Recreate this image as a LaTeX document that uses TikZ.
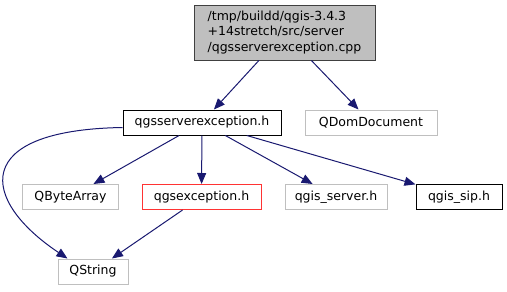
\documentclass[tikz,border=0pt]{standalone}
\usepackage{fontspec}
\setmainfont{DejaVu Sans}
\usepackage{tikz}
\usetikzlibrary{arrows.meta,positioning}

\definecolor{edgeblue}{HTML}{191970}
\definecolor{boxgray}{HTML}{BFBFBF}
\definecolor{boxdark}{HTML}{404040}

\tikzset{
  file/.style={draw, rectangle, inner sep=0pt, minimum height=25bp, line width=1bp,
    font=\fontsize{12.5bp}{15.5bp}\selectfont},
  extfile/.style={file, draw=boxgray},
  docfile/.style={file, draw=black},
  errfile/.style={file, draw=red!80},
  srcfile/.style={file, draw=boxdark, fill=boxgray, align=left},
  dep/.style={draw=edgeblue, line width=1bp, -{Triangle[length=11bp,width=9bp]}}
}

\begin{document}
\begin{tikzpicture}[x=1bp, y=-1bp]
    \useasboundingbox (0,0) rectangle (507,291);

    % source file and its headers
    \node[srcfile, minimum width=181bp, minimum height=55bp] (cpp) at (284.5,32.5)
      {/tmp/buildd/qgis-3.4.3\\+14stretch/src/server\\/qgsserverexception.cpp};
    \node[docfile, minimum width=158bp] (hdr) at (202,122.5) {qgsserverexception.h};
    \node[extfile, minimum width=132bp] (qdom) at (371,122.5) {QDomDocument};
    \node[extfile, minimum width=95bp] (qbyte) at (70.5,197) {QByteArray};
    \node[errfile, minimum width=119bp] (qgsexc) at (201.5,197) {qgsexception.h};
    \node[extfile, minimum width=102bp] (qserv) at (336,197) {qgis\_server.h};
    \node[docfile, minimum width=86bp] (qsip) at (459,197) {qgis\_sip.h};
    \node[extfile, minimum width=70bp] (qstr) at (93,271.5) {QString};

    % include edges
    \draw[dep] (cpp) -- (hdr);
    \draw[dep] (cpp) -- (qdom);
    \draw[dep] (hdr) -- (qbyte);
    \draw[dep] (hdr) -- (qgsexc);
    \draw[dep] (hdr) -- (qserv);
    \draw[dep] (hdr) -- (qsip);
    \draw[dep] (qgsexc) -- (qstr);
    \draw[dep] ([yshift=-5bp]hdr.west) .. controls (-30,130) and (-20,200) .. ([xshift=10bp]qstr.north west);
  \end{tikzpicture}
\end{document}
